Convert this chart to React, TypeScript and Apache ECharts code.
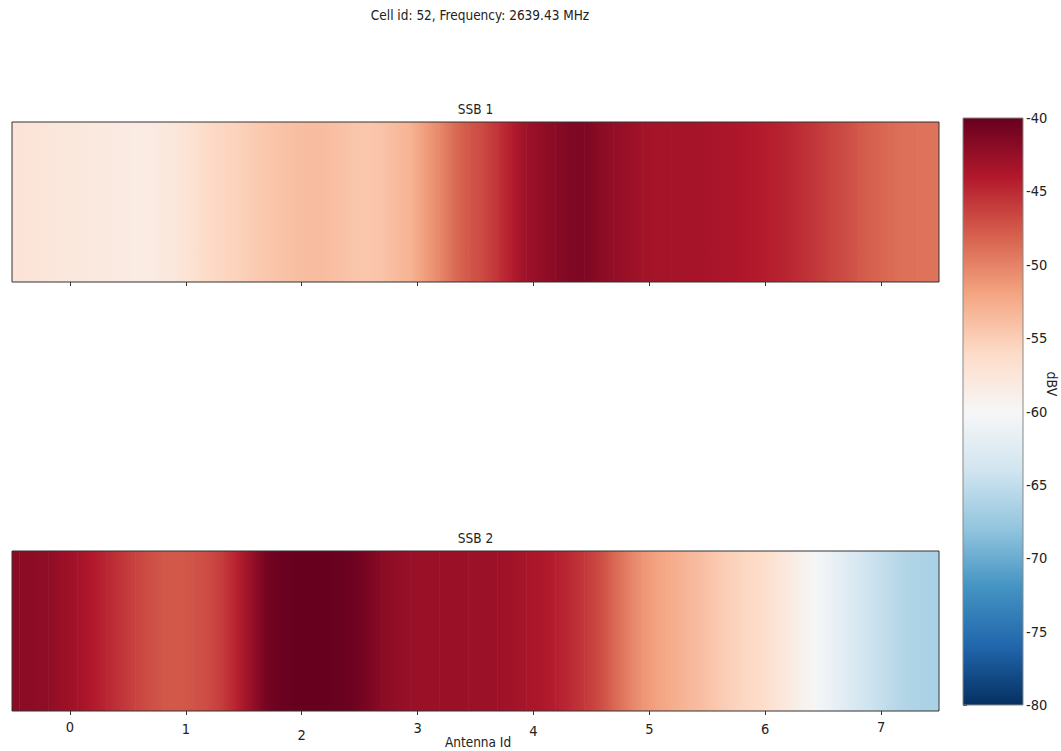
import React, { useEffect, useRef } from 'react';
import * as echarts from 'echarts';

// ---- data ----
const TITLE = 'Cell id: 52, Frequency: 2639.43 MHz';
const PANEL_TITLES = ['SSB 1', 'SSB 2'];
const ANTENNA_LABELS = ['0', '1', '2', '3', '4', '5', '6', '7'];
const X_AXIS_NAME = 'Antenna Id';
const COLORBAR_NAME = 'dBV';
const DBV_MIN = -80;
const DBV_MAX = -40;
const DBV_STEP = 5;

// signal level (dBV) read across the antenna axis, 8 samples per antenna
const SSB1_DBV = [
  -57.3, -57.4, -57.5, -57.8, -57.9, -58.0, -58.0, -58.2,
  -58.3, -58.3, -57.9, -57.5, -56.8, -56.0, -55.7, -55.4,
  -54.9, -54.5, -54.2, -53.9, -53.8, -53.8, -54.0, -54.4,
  -54.5, -54.2, -53.6, -53.0, -51.6, -50.3, -48.7, -47.5,
  -46.8, -45.5, -44.2, -42.9, -42.4, -41.8, -41.3, -41.2,
  -41.8, -42.3, -42.7, -43.1, -43.3, -43.3, -43.3, -43.4,
  -43.5, -43.6, -43.9, -44.1, -44.4, -44.7, -45.2, -45.8,
  -46.4, -46.9, -47.6, -48.1, -48.5, -48.9, -49.0, -49.1,
];
const SSB2_DBV = [
  -41.9, -42.0, -42.2, -42.7, -43.2, -44.0, -44.7, -45.6,
  -46.4, -47.0, -47.5, -47.6, -47.3, -46.9, -46.0, -44.5,
  -42.6, -40.8, -40.2, -40.0, -40.0, -40.0, -40.1, -40.3,
  -41.0, -41.8, -42.3, -42.6, -42.7, -42.7, -42.7, -42.8,
  -42.8, -42.9, -43.1, -43.5, -43.8, -44.3, -45.0, -45.8,
  -46.8, -48.3, -49.8, -51.0, -51.9, -52.5, -53.2, -53.8,
  -54.5, -55.2, -55.7, -56.1, -57.0, -58.0, -59.2, -60.3,
  -61.3, -62.4, -63.5, -64.4, -65.2, -65.9, -66.3, -66.5,
];

// ---- style ----
const RDBU_R = [
  '#053061', '#2166ac', '#4393c3', '#92c5de', '#d1e5f0', '#f7f7f7',
  '#fddbc7', '#f4a582', '#d6604d', '#b2182b', '#67001f',
];
const LABEL_DROP = [0, 2, 8, 1, 4, 2, 2, 0];
const FONT = '"DejaVu Sans Condensed", "DejaVu Sans", sans-serif';
const X_MIN = -0.5;
const X_MAX = 7.5;

const PANEL_LEFT = 12;
const PANEL_WIDTH = 927;
const PANEL_HEIGHT = 160;
const PANEL_TOPS = [122, 551];
const CB = { left: 963, top: 118, width: 60, height: 587 };

function cmap(v: number) {
  const t = Math.max(0, Math.min(1, (v - DBV_MIN) / (DBV_MAX - DBV_MIN)));
  return echarts.color.lerp(t, RDBU_R) as string;
}

function toItems(vals: number[]) {
  const step = (X_MAX - X_MIN) / vals.length;
  return vals.map((v, i) => [X_MIN + (i + 0.5) * step, 0, v, vals[Math.min(i + 1, vals.length - 1)]]);
}

function makeRender(n: number) {
  const step = (X_MAX - X_MIN) / n;
  return (params: any, api: any) => {
    const i = params.dataIndex;
    const c = api.value(0);
    const v = api.value(2);
    const vn = api.value(3);
    const top = api.coord([c, 0.5])[1];
    const bottom = api.coord([c, -0.5])[1];
    const y = top;
    const h = bottom - top;
    const xc = api.coord([c, 0])[0];
    const col = cmap(v);
    const children: any[] = [];
    if (i === 0) {
      const xl = api.coord([c - step / 2, 0])[0];
      children.push({ type: 'rect', shape: { x: xl, y, width: xc - xl + 0.5, height: h }, style: { fill: col } });
    }
    if (i === n - 1) {
      const xr = api.coord([c + step / 2, 0])[0];
      children.push({ type: 'rect', shape: { x: xc, y, width: xr - xc, height: h }, style: { fill: col } });
    } else {
      const xn = api.coord([c + step, 0])[0];
      children.push({
        type: 'rect',
        shape: { x: xc, y, width: xn - xc + 0.6, height: h },
        style: {
          fill: {
            type: 'linear', x: 0, y: 0, x2: 1, y2: 0,
            colorStops: [{ offset: 0, color: col }, { offset: 1, color: cmap(vn) }],
          },
        },
      });
    }
    return { type: 'group', children };
  };
}

export default function App() {
  const ref = useRef<HTMLDivElement>(null);

  useEffect(() => {
    if (!ref.current) return;
    const chart = echarts.init(ref.current, undefined, { renderer: 'svg' });

    const richStyles: Record<string, any> = {};
    LABEL_DROP.forEach((d, i) => {
      richStyles['t' + i] = {
        fontSize: 14.5,
        fontFamily: FONT,
        color: '#222',
        padding: [d, 0, 0, 0],
      };
    });

    const grids = [
      ...PANEL_TOPS.map((top) => ({
        left: PANEL_LEFT, top, width: PANEL_WIDTH, height: PANEL_HEIGHT,
        containLabel: false, outerBoundsMode: 'none',
      })),
      {
        left: CB.left, top: CB.top, width: CB.width, height: CB.height,
        containLabel: false, outerBoundsMode: 'none',
      },
    ];

    const xAxes: any[] = [];
    const yAxes: any[] = [];
    PANEL_TOPS.forEach((_t, gi) => {
      const isBottom = gi === PANEL_TOPS.length - 1;
      xAxes.push({
        type: 'category',
        gridIndex: gi,
        data: ANTENNA_LABELS,
        boundaryGap: true,
        position: 'bottom',
        axisLine: { show: false, onZero: false },
        axisTick: { show: true, alignWithLabel: true, length: 4, lineStyle: { color: '#333' } },
        axisLabel: isBottom
          ? {
              show: true,
              margin: 8,
              formatter: (v: string, i: number) => `{t${i}|${v}}`,
              rich: richStyles,
            }
          : { show: false },
        splitLine: { show: false },
      });
      xAxes.push({ type: 'value', gridIndex: gi, min: X_MIN, max: X_MAX, show: false });
      yAxes.push({ type: 'value', gridIndex: gi, min: -0.5, max: 0.5, show: false });
    });
    xAxes.push({ type: 'value', gridIndex: 2, min: 0, max: 1, show: false });
    yAxes.push({
      type: 'value',
      gridIndex: 2,
      position: 'right',
      min: DBV_MIN,
      max: DBV_MAX,
      interval: DBV_STEP,
      axisLine: { show: false },
      axisTick: { show: true, length: 4, lineStyle: { color: '#333' } },
      axisLabel: { margin: 3, fontSize: 14.5, fontFamily: FONT, color: '#222' },
      splitLine: { show: false },
    });

    const frames = PANEL_TOPS.map((top) => ({
      type: 'rect',
      z: 100,
      shape: { x: PANEL_LEFT, y: top, width: PANEL_WIDTH, height: PANEL_HEIGHT },
      style: { fill: 'none', stroke: '#333', lineWidth: 1 },
    }));

    const stops = RDBU_R.map((c, i) => ({ offset: 1 - i / (RDBU_R.length - 1), color: c })).reverse();

    chart.setOption({
      animation: false,
      backgroundColor: '#ffffff',
      textStyle: { fontFamily: FONT },
      grid: grids,
      xAxis: xAxes,
      yAxis: yAxes,
      series: [
        {
          type: 'custom',
          name: PANEL_TITLES[0],
          xAxisIndex: 1,
          yAxisIndex: 0,
          renderItem: makeRender(SSB1_DBV.length),
          data: toItems(SSB1_DBV),
        },
        {
          type: 'custom',
          name: PANEL_TITLES[1],
          xAxisIndex: 3,
          yAxisIndex: 1,
          renderItem: makeRender(SSB2_DBV.length),
          data: toItems(SSB2_DBV),
        },
      ],
      graphic: [
        ...frames,
        {
          type: 'rect',
          z: 50,
          shape: { x: CB.left, y: CB.top, width: CB.width, height: CB.height },
          style: {
            fill: { type: 'linear', x: 0, y: 0, x2: 0, y2: 1, colorStops: stops },
            stroke: '#888',
            lineWidth: 1,
          },
        },
        {
          type: 'text',
          x: 480,
          y: 15,
          style: { text: TITLE, font: `13.5px ${FONT}`, fill: '#222', textAlign: 'center', textVerticalAlign: 'middle' },
        },
        ...PANEL_TITLES.map((t, i) => ({
          type: 'text',
          x: PANEL_LEFT + PANEL_WIDTH / 2,
          y: PANEL_TOPS[i] - 13,
          style: { text: t, font: `13.5px ${FONT}`, fill: '#222', textAlign: 'center', textVerticalAlign: 'middle' },
        })),
        {
          type: 'text',
          x: 478,
          y: 742,
          style: { text: X_AXIS_NAME, font: `13.5px ${FONT}`, fill: '#222', textAlign: 'center', textVerticalAlign: 'middle' },
        },
        {
          type: 'text',
          x: 1052,
          y: 384,
          rotation: -Math.PI / 2,
          style: { text: COLORBAR_NAME, font: `14px ${FONT}`, fill: '#222', textAlign: 'center', textVerticalAlign: 'middle' },
        },
      ],
    });

    return () => chart.dispose();
  }, []);

  return (
    <div
      ref={ref}
      style={{ position: 'absolute', left: 0, top: 0, width: 1061, height: 751, background: '#fff' }}
    />
  );
}
